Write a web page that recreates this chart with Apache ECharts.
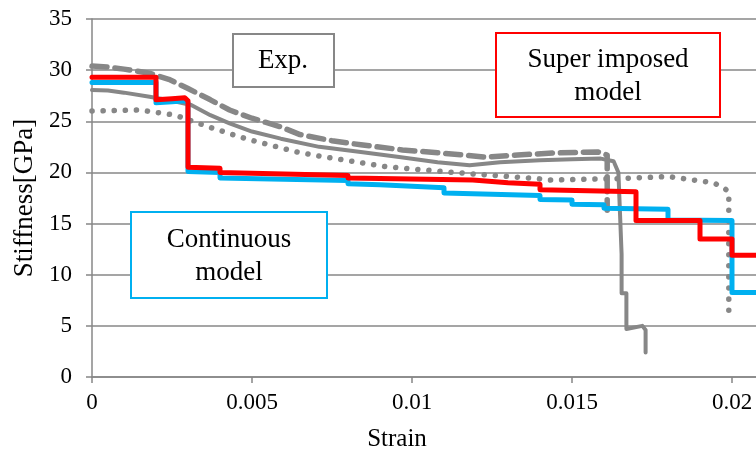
<!DOCTYPE html>
<html><head><meta charset="utf-8">
<script src="https://cdn.jsdelivr.net/npm/echarts@6/dist/echarts.min.js"></script>
<style>html,body{margin:0;padding:0;background:#fff}#c{width:756px;height:459px}</style>
</head><body><div id="c"></div>
<script>
// ---- data (strain, stiffness GPa) ----
const superImposed = [[0,29.3],[0.002,29.3],[0.002,27.1],[0.0025,27.2],[0.0029,27.3],[0.003,27.0],[0.003,20.5],[0.004,20.4],[0.004,20.0],[0.008,19.7],[0.008,19.45],[0.009,19.4],[0.0119,19.25],[0.0119,19.1],[0.013,19.0],[0.013,18.9],[0.014,18.85],[0.014,18.3],[0.0155,18.2],[0.017,18.1],[0.017,15.3],[0.019,15.3],[0.019,13.5],[0.02,13.5],[0.02,11.9],[0.022,11.9]];
const continuous = [[0,28.8],[0.002,28.8],[0.002,26.8],[0.0025,26.9],[0.0029,27.0],[0.003,26.8],[0.003,20.1],[0.004,20.0],[0.004,19.45],[0.008,19.2],[0.008,18.9],[0.009,18.8],[0.009,18.65],[0.011,18.5],[0.011,18.0],[0.014,17.75],[0.014,17.35],[0.015,17.3],[0.015,16.9],[0.016,16.85],[0.016,16.5],[0.018,16.4],[0.018,15.35],[0.02,15.3],[0.02,8.25],[0.022,8.25]];
const expSolid = [[0,28.05],[0.0005,28.0],[0.001,27.8],[0.0018,27.4],[0.0025,27.0],[0.0031,26.6],[0.0037,25.6],[0.0043,24.8],[0.005,24.0],[0.0059,23.3],[0.0071,22.5],[0.0084,22.0],[0.0096,21.5],[0.0108,21.0],[0.0118,20.7],[0.01275,21.0],[0.014,21.2],[0.015,21.3],[0.0159,21.35],[0.0163,21.1],[0.01645,20.0],[0.0165,16.0],[0.01655,12.0],[0.01655,8.2],[0.0167,8.2],[0.0167,4.7],[0.0172,5.0],[0.0173,4.6],[0.0173,2.4]];
const expDashed = [[0,30.4],[0.0005,30.3],[0.001,30.1],[0.0018,29.7],[0.0024,29.1],[0.003,28.2],[0.0037,27.1],[0.0043,26.1],[0.005,25.3],[0.0059,24.45],[0.0065,23.7],[0.0075,23.1],[0.0084,22.7],[0.0097,22.2],[0.0109,21.9],[0.0123,21.5],[0.0133,21.7],[0.0144,21.9],[0.0158,22.0],[0.0161,21.7],[0.0161,16.3]];
const expDotted = [[0,26.0],[0.0015,26.1],[0.0026,25.6],[0.0036,24.5],[0.0048,23.3],[0.0064,22.0],[0.0071,21.6],[0.0092,20.55],[0.0117,19.9],[0.0139,19.4],[0.0143,19.25],[0.0165,19.4],[0.018,19.6],[0.0194,19.0],[0.0197,18.6],[0.0199,18.1],[0.0199,6.5]];
const xTicks = [0, 0.005, 0.01, 0.015, 0.02, 0.025];
const yTicks = [0, 5, 10, 15, 20, 25, 30, 35];

const FONT = '"Liberation Serif", "Times New Roman", serif';
const GRAY = '#878787';
const chart = echarts.init(document.getElementById('c'), null, {renderer:'canvas'});
const line = (data, color, width, type, z) => ({
  type:'line', data, showSymbol:false, symbol:'none', animation:false, z,
  lineStyle:{color, width, type, cap:'round', join:'round'}
});
chart.setOption({
  animation:false,
  grid:{left:92, top:19, width:800, height:358, containLabel:false, outerBoundsMode:'none'},
  xAxis:{type:'value', min:xTicks[0], max:xTicks[xTicks.length-1], interval:0.005,
    name:'Strain', nameLocation:'middle', nameGap:50,
    nameTextStyle:{fontFamily:FONT, fontSize:25, color:'#000', padding:[0,190,0,0]},
    axisLine:{show:true, lineStyle:{color:GRAY, width:1.5}},
    axisTick:{show:true, length:6, lineStyle:{color:GRAY, width:1.5}},
    axisLabel:{fontFamily:FONT, fontSize:23, color:'#000', margin:14,
      formatter:v => String(parseFloat(v.toFixed(4)))},
    splitLine:{show:false}},
  yAxis:{type:'value', min:yTicks[0], max:yTicks[yTicks.length-1], interval:5,
    name:'Stiffness[GPa]', nameLocation:'middle', nameGap:53,
    nameTextStyle:{fontFamily:FONT, fontSize:27, color:'#000'},
    axisLine:{show:true, lineStyle:{color:GRAY, width:1.5}},
    axisTick:{show:true, length:6, lineStyle:{color:GRAY, width:1.5}},
    axisLabel:{fontFamily:FONT, fontSize:23, color:'#000', margin:20},
    splitLine:{show:true, lineStyle:{color:GRAY, width:1.5}}},
  series:[
    line(expDotted, GRAY, 5.5, [0.1, 11], 2),
    line(expDashed, GRAY, 5.5, [15, 8], 2),
    line(expSolid, GRAY, 4, 'solid', 2),
    line(continuous, '#00b0f0', 5, 'solid', 3),
    line(superImposed, '#ff0000', 5, 'solid', 4)
  ],
  graphic:[
    {type:'rect', shape:{x:233, y:34, width:101, height:53}, style:{fill:'#fff', stroke:GRAY, lineWidth:2}, z:10},
    {type:'text', x:283, y:61, style:{text:'Exp.', font:'27px '+FONT, fill:'#000', align:'center', verticalAlign:'middle'}, z:11},
    {type:'rect', shape:{x:496, y:33, width:224, height:84}, style:{fill:'#fff', stroke:'#ff0000', lineWidth:2}, z:10},
    {type:'text', x:608, y:76, style:{text:'Super imposed\nmodel', font:'27px '+FONT, fill:'#000', align:'center', verticalAlign:'middle', lineHeight:33}, z:11},
    {type:'rect', shape:{x:131, y:212, width:196, height:86}, style:{fill:'#fff', stroke:'#00b0f0', lineWidth:2}, z:10},
    {type:'text', x:229, y:256, style:{text:'Continuous\nmodel', font:'27px '+FONT, fill:'#000', align:'center', verticalAlign:'middle', lineHeight:33}, z:11}
  ]
});
</script></body></html>
